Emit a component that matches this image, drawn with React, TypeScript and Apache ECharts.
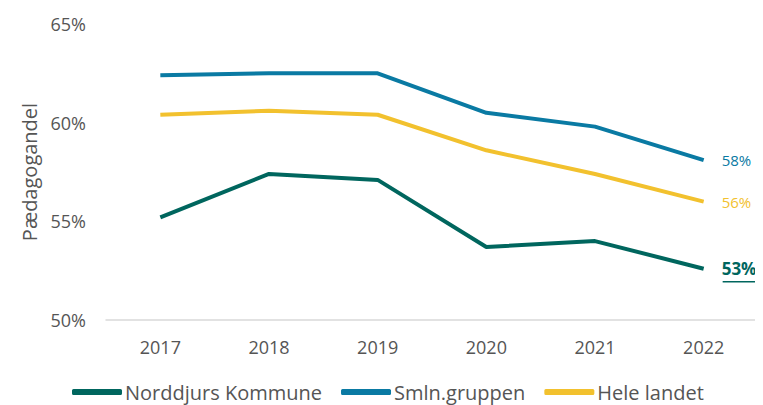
import React, { useEffect, useRef } from "react";
import * as echarts from "echarts";

const years = ["2017", "2018", "2019", "2020", "2021", "2022"];
const norddjurs = [55.2, 57.4, 57.1, 53.7, 54.0, 52.6];
const smln = [62.4, 62.5, 62.5, 60.5, 59.8, 58.1];
const hele = [60.4, 60.6, 60.4, 58.6, 57.4, 56.0];
const seriesNames = ["Norddjurs Kommune", "Smln.gruppen", "Hele landet"];
const colors = ["#00665E", "#0A7AA3", "#F2C12E"];

const FONT = "'Open Sans', 'DejaVu Sans', sans-serif";

export default function App() {
  const ref = useRef<HTMLDivElement>(null);
  useEffect(() => {
    if (!ref.current) return;
    const chart = echarts.init(ref.current, null, { renderer: "svg" });
    const mk = (name: string, data: number[], color: string, bold: boolean) => ({
      name,
      type: "line",
      data,
      symbol: "none",
      lineStyle: { width: 4, color },
      itemStyle: { color },
      endLabel: {
        show: true,
        formatter: (p: any) => Math.round(p.value) + "%",
        color,
        fontSize: bold ? 17 : 15,
        fontWeight: bold ? "bold" : "normal",
        fontFamily: FONT,
        distance: 18,
      },
    });
    chart.setOption({
      animation: false,
      grid: { left: 98, right: 5, top: 16, bottom: 85 },
      legend: {
        top: 369,
        left: 59,
        itemWidth: 50,
        itemHeight: 6,
        itemGap: 19,
        icon: "roundRect",
        textStyle: { color: "#555", fontSize: 20, fontFamily: FONT, padding: [0, 0, 0, -2] },
        data: seriesNames,
      },
      xAxis: {
        type: "category",
        data: years,
        boundaryGap: true,
        axisLine: { show: true, lineStyle: { color: "#d9d9d9", width: 1.5 } },
        axisTick: { show: false },
        axisLabel: { color: "#555", fontSize: 18, fontFamily: FONT, margin: 18 },
      },
      yAxis: {
        type: "value",
        min: 50,
        max: 65,
        interval: 5,
        name: "Pædagogandel",
        nameLocation: "middle",
        nameGap: 60,
        nameTextStyle: { color: "#555", fontSize: 20, fontFamily: FONT },
        splitLine: { show: false },
        axisLine: { show: false },
        axisTick: { show: false },
        axisLabel: { color: "#555", fontSize: 18, fontFamily: FONT, margin: 20, formatter: "{value}%" },
      },
      series: [
        mk(seriesNames[0], norddjurs, colors[0], true),
        mk(seriesNames[1], smln, colors[1], false),
        mk(seriesNames[2], hele, colors[2], false),
      ],
    });
    const last = norddjurs.length - 1;
    const pt = chart.convertToPixel({ seriesIndex: 0 }, [last, norddjurs[last]]) as number[];
    if (pt) {
      chart.setOption({
        graphic: [
          {
            type: "line",
            shape: { x1: pt[0] + 19, y1: pt[1] + 13, x2: pt[0] + 55, y2: pt[1] + 13 },
            style: { stroke: colors[0], lineWidth: 1.5 },
          },
        ],
      });
    }
    return () => chart.dispose();
  }, []);
  return <div ref={ref} style={{ width: 755, height: 397 }} />;
}
